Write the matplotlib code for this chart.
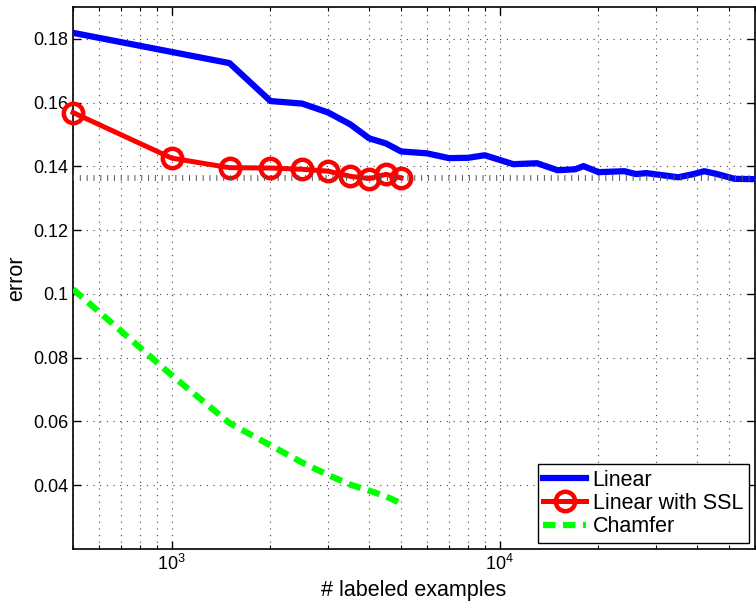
import matplotlib.pyplot as plt
import numpy as np

plt.rcParams['font.family'] = ['Liberation Sans', 'DejaVu Sans']
plt.rcParams['font.size'] = 13
plt.rcParams['mathtext.fontset'] = 'custom'
plt.rcParams['mathtext.rm'] = 'Liberation Sans'

# Linear (no SSL)
lin_x = [500, 1000, 1500, 2000, 2500, 3000, 3500, 4000, 4500, 5000, 6000, 7000, 8000,
         9000, 11000, 13000, 15000, 17000, 18000, 20000, 24000, 26000, 28000, 35000,
         39000, 42000, 46000, 52000, 60000]
lin_y = [0.1819, 0.1759, 0.1724, 0.1605, 0.1597, 0.1569, 0.1532, 0.1488, 0.1472, 0.1447,
         0.1441, 0.1426, 0.1427, 0.1435, 0.1407, 0.1410, 0.1388, 0.1391, 0.1401, 0.1382,
         0.1385, 0.1376, 0.1379, 0.1366, 0.1376, 0.1385, 0.1376, 0.1361, 0.1360]

# Linear with SSL
ssl_x = [500, 1000, 1500, 2000, 2500, 3000, 3500, 4000, 4500, 5000]
ssl_y = [0.1569, 0.1426, 0.1396, 0.1395, 0.1391, 0.1385, 0.1369, 0.1362, 0.1375, 0.1364]

# Chamfer
ch_x = [500, 1000, 1500, 2000, 2500, 3000, 3500, 4000, 4500, 5000]
ch_y = [0.1015, 0.0745, 0.0595, 0.0525, 0.0471, 0.0432, 0.0402, 0.0383, 0.0365, 0.0343]

# reference level
ref_level = 0.1364
xmin, xmax = 500, 60000

fig = plt.figure(figsize=(7.56, 6.03), dpi=100)
ax = fig.add_axes([73/756, 54/603, 682/756, 542/603])

ax.plot(lin_x, lin_y, color='#0000ff', lw=4.5, label='Linear', zorder=3,
        solid_joinstyle='round')
ax.plot(ssl_x, ssl_y, color='#ff0000', lw=3.6, marker='o', ms=14, mfc='none',
        mec='#ff0000', mew=3.2, label='Linear with SSL', zorder=4, clip_on=False)
ax.plot(ch_x, ch_y, color='#00ff00', lw=4.5, ls=(0, (2.0, 1.2)),
        label='Chamfer', zorder=3)
ax.plot([xmin, xmax], [ref_level, ref_level], color='#555555', lw=4.2,
        ls=(0, (0.17, 1.0)), dash_capstyle='butt', zorder=5)

ax.set_xscale('log')
ax.set_xlim(xmin, xmax)
ax.set_ylim(0.02, 0.19)
ax.set_yticks([0.04, 0.06, 0.08, 0.1, 0.12, 0.14, 0.16, 0.18])
ax.set_yticklabels(['0.04', '0.06', '0.08', '0.1', '0.12', '0.14', '0.16', '0.18'])

ax.grid(True, which='major', axis='both', ls=(0, (1, 5)), color='#444444', lw=0.8)
ax.grid(True, which='minor', axis='x', ls=(0, (1, 5)), color='#444444', lw=0.8)

ax.tick_params(which='both', direction='in', top=True, right=True, labelsize=13)
ax.tick_params(which='major', length=6, width=1)
ax.tick_params(which='minor', length=3, width=0.8)
for s in ax.spines.values():
    s.set_linewidth(1.2)

ax.set_xlabel('# labeled examples', fontsize=15.5)
ax.set_ylabel('error', fontsize=15.5)

leg = ax.legend(loc='lower right', fontsize=15.5, handlelength=2.0, borderaxespad=0.3,
                fancybox=False, framealpha=1, edgecolor='black',
                borderpad=0.25, labelspacing=0.1, handletextpad=0.3)
leg.get_frame().set_linewidth(1.0)

fig.savefig('out.png', dpi=100)
